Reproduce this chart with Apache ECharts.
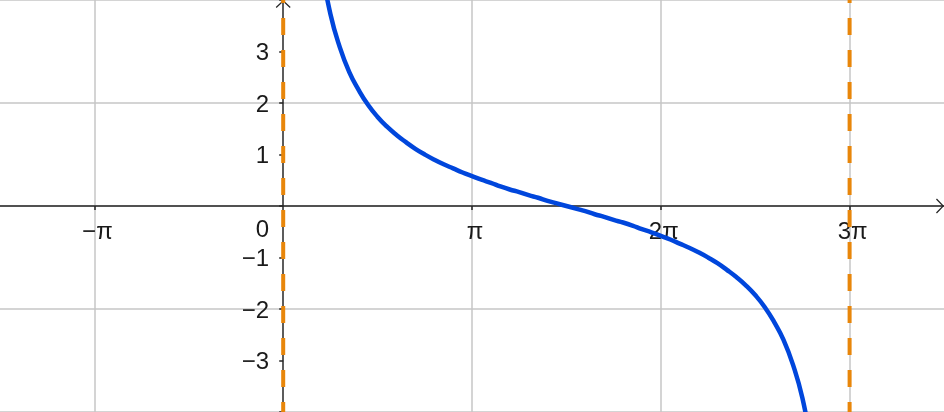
<!DOCTYPE html>
<html>
<head>
<meta charset="utf-8">
<script src="https://cdn.jsdelivr.net/npm/echarts@6/dist/echarts.min.js"></script>
<style>
  html, body { margin: 0; padding: 0; background: #fff; }
  #main { width: 944px; height: 412px; }
</style>
</head>
<body>
<div id="main"></div>
<script>
// x values are in units of pi
const xTicks = [-1, 1, 2, 3];

// y = cot(x/3)
const curveX = [0.2, 0.25, 0.3, 0.35, 0.4, 0.45, 0.5, 0.55, 0.6, 0.65, 0.7, 0.75, 0.8, 0.85, 0.9, 0.95,
  1.0, 1.05, 1.1, 1.15, 1.2, 1.25, 1.3, 1.35, 1.4, 1.45, 1.5, 1.55, 1.6, 1.65, 1.7, 1.75, 1.8, 1.85,
  1.9, 1.95, 2.0, 2.05, 2.1, 2.15, 2.2, 2.25, 2.3, 2.35, 2.4, 2.45, 2.5, 2.55, 2.6, 2.65, 2.7, 2.75, 2.8];
const curveY = [4.7, 3.73, 3.08, 2.6, 2.25, 1.96, 1.73, 1.54, 1.38, 1.24, 1.11, 1.0, 0.9, 0.81, 0.73, 0.65,
  0.58, 0.51, 0.45, 0.38, 0.32, 0.27, 0.21, 0.16, 0.1, 0.05, 0, -0.05, -0.1, -0.16, -0.21, -0.27, -0.32, -0.38,
  -0.45, -0.51, -0.58, -0.65, -0.73, -0.81, -0.9, -1.0, -1.11, -1.24, -1.38, -1.54, -1.73, -1.96, -2.25, -2.6, -3.08, -3.73, -4.7];

// vertical asymptotes
const asymptoteX = [0, 3];

const chart = echarts.init(document.getElementById('main'));

const MINUS = '\u2212';
const arrowPath = 'path://M0.9,8.6 L0,7.6 L8,0 L16,7.6 L15.1,8.6 L8,1.8 Z';
const axisColor = '#262626';
const gridColor = '#c6c6c6';
const labelFont = { fontFamily: 'Liberation Sans', fontSize: 24, color: '#1a1a1a' };

const curve = curveX.map((x, i) => [x, curveY[i]]);

const asymptoteSeries = asymptoteX.map(x => ({
  type: 'line',
  data: [[x, 4], [x, -4]],
  symbol: 'none',
  silent: true,
  z: 4,
  lineStyle: { color: '#e8860a', width: 4, type: [17, 15], dashOffset: 14, cap: 'butt' }
}));

const option = {
  backgroundColor: '#ffffff',
  animation: false,
  grid: { left: 0, right: 0, top: 0, bottom: 0, containLabel: false, outerBoundsMode: 'none' },
  xAxis: {
    type: 'value',
    position: 'bottom',
    min: -1.5,
    max: 3.5,
    interval: 0.5,
    axisLine: {
      onZero: false,
      lineStyle: { color: axisColor, width: 1.5 },
      symbol: ['none', arrowPath],
      symbolSize: [16, 8],
      symbolOffset: [0, -4]
    },
    axisTick: { show: true, customValues: xTicks, length: 4, lineStyle: { color: axisColor, width: 1.5 } },
    axisLabel: {
      customValues: xTicks,
      margin: 14,
      padding: [0, 0, 0, 6],
      ...labelFont,
      formatter: v => v === 1 ? 'π' : v === -1 ? MINUS + 'π' : (v < 0 ? MINUS + Math.abs(v) : v) + 'π'
    },
    splitLine: { show: true, lineStyle: { color: gridColor, width: 1.5 } }
  },
  yAxis: {
    type: 'value',
    position: 'left',
    min: -4,
    max: 4,
    interval: 1,
    axisLine: {
      onZero: false,
      lineStyle: { color: axisColor, width: 1.5 },
      symbol: ['none', arrowPath],
      symbolSize: [16, 8],
      symbolOffset: [0, -4]
    },
    axisTick: { show: true, length: 4, lineStyle: { color: axisColor, width: 1.5 } },
    axisLabel: {
      margin: 14,
      showMinLabel: true,
      showMaxLabel: true,
      padding: [4, 0, 0, 0],
      ...labelFont,
      formatter: v => Math.abs(v) === 4 ? '' : v === 0 ? '{o|0}' : v < 0 ? MINUS + Math.abs(v) : String(v),
      rich: { o: { ...labelFont, padding: [44, 0, 0, 0] } }
    },
    // grid lines only at every second unit
    splitLine: { show: true, lineStyle: { color: [gridColor, 'rgba(0,0,0,0)'], width: 1.5 } }
  },
  series: [
    {
      type: 'line',
      data: curve,
      symbol: 'none',
      smooth: true,
      silent: true,
      z: 3,
      lineStyle: { color: '#0046dc', width: 4.5 }
    },
    ...asymptoteSeries
  ]
};

chart.setOption(option);

// move both axes onto the origin
const origin = chart.convertToPixel({ gridIndex: 0 }, [0, 0]);
chart.setOption({
  xAxis: { offset: -(chart.getHeight() - origin[1]) },
  yAxis: { offset: -origin[0] }
});
</script>
</body>
</html>
